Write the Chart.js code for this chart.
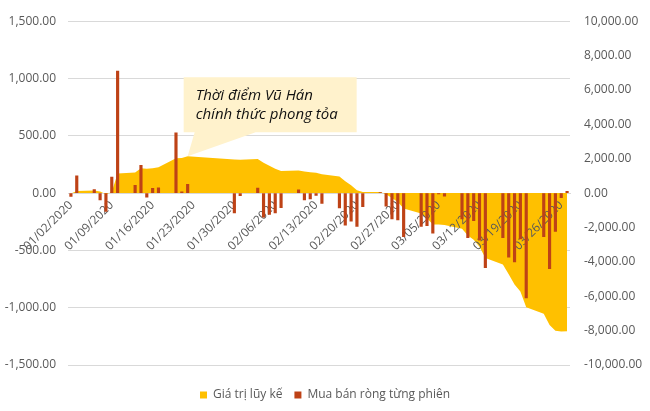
<!DOCTYPE html>
<html>
<head>
<meta charset="utf-8">
<script src="https://cdn.jsdelivr.net/npm/chart.js@4.4.1/dist/chart.umd.min.js"></script>
<style>
  html, body { margin: 0; padding: 0; background: #fff; }
  #wrap { width: 650px; height: 411px; position: relative; }
</style>
</head>
<body>
<div id="wrap"><canvas id="myChart"></canvas></div>
<script>
// trading sessions (mm/dd/yyyy)
const dates = [
  "01/02/2020","01/03/2020","01/06/2020","01/07/2020","01/08/2020","01/09/2020","01/10/2020",
  "01/13/2020","01/14/2020","01/15/2020","01/16/2020","01/17/2020","01/20/2020","01/21/2020",
  "01/22/2020","01/30/2020","01/31/2020",
  "02/03/2020","02/04/2020","02/05/2020","02/06/2020","02/07/2020","02/10/2020","02/11/2020",
  "02/12/2020","02/13/2020","02/14/2020","02/17/2020","02/18/2020","02/19/2020","02/20/2020",
  "02/21/2020","02/24/2020","02/25/2020","02/26/2020","02/27/2020","02/28/2020",
  "03/02/2020","03/03/2020","03/04/2020","03/05/2020","03/06/2020","03/09/2020","03/10/2020",
  "03/11/2020","03/12/2020","03/13/2020","03/16/2020","03/17/2020","03/18/2020","03/19/2020",
  "03/20/2020","03/23/2020","03/24/2020","03/25/2020","03/26/2020","03/27/2020"
];

// Mua bán ròng từng phiên (left axis)
const netFlow = [
  -30, 150, 30, -60, -160, 140, 1065,
  67, 242, -35, 41, 46, 527, 12,
  76, -172, -23,
  44, -210, -186, -172, -128, 28, -60,
  -50, -20, -90, -130, -280, -245, -290,
  -118, 4, -115, -225, -235, -380,
  -290, -285, -350, -8, -26, -225, -390,
  -240, -410, -650, -390, -560, -600, -400,
  -915, -380, -660, -335, -40, 15
];

// Giá trị lũy kế (right axis)
const cumulative = [
  -30, 120, 150, 90, -70, 70, 1140,
  1200, 1450, 1410, 1450, 1500, 2030, 2040,
  2150, 1960, 1940,
  1980, 1770, 1590, 1420, 1290, 1320, 1260,
  1210, 1190, 1100, 970, 690, 450, 160,
  60, 60, -60, -290, -520, -900,
  -1190, -1470, -1820, -1830, -1860, -2080, -2470,
  -2710, -3120, -3770, -4160, -4720, -5320, -5720,
  -6640, -7020, -7680, -8010, -8050, -8040
];

const tickDates = [
  "01/02/2020","01/09/2020","01/16/2020","01/23/2020","01/30/2020","02/06/2020","02/13/2020",
  "02/20/2020","02/27/2020","03/05/2020","03/12/2020","03/19/2020","03/26/2020"
];

const calloutDate = "01/22/2020";
const calloutValue = 2150;
const calloutLines = ["Thời điểm Vũ Hán", "chính thức phong tỏa"];

const dayIndex = (s) => {
  const [m, d, y] = s.split('/').map(Number);
  return (Date.UTC(y, m - 1, d) - Date.UTC(2020, 0, 2)) / 86400000;
};
const fmt = (v) => Number(v).toLocaleString('en-US', { minimumFractionDigits: 2, maximumFractionDigits: 2 });

const callout = {
  id: 'callout',
  afterDatasetsDraw(chart) {
    const { ctx, scales } = chart;
    const tx = scales.x.getPixelForValue(dayIndex(calloutDate));
    const ty = scales.y1.getPixelForValue(calloutValue);
    const left = tx - 4, top = ty - 79, w = 173, h = 55;
    ctx.save();
    ctx.fillStyle = '#FFF2CC';
    ctx.beginPath();
    ctx.moveTo(left, top);
    ctx.lineTo(left + w, top);
    ctx.lineTo(left + w, top + h);
    ctx.lineTo(tx + 68, top + h);
    ctx.lineTo(tx, ty);
    ctx.lineTo(tx + 7, top + h);
    ctx.lineTo(left, top + h);
    ctx.closePath();
    ctx.fill();
    ctx.fillStyle = '#111';
    ctx.font = "italic 15px 'Open Sans'";
    ctx.textBaseline = 'alphabetic';
    ctx.fillText(calloutLines[0], left + 12, ty - 56);
    ctx.fillText(calloutLines[1], left + 12, ty - 37);
    ctx.restore();
  }
};

// date labels sit above the area but under the bars
const labelsOverArea = {
  id: 'labelsOverArea',
  afterUpdate(chart) {
    const sx = chart.scales.x;
    if (!sx._origDrawLabels) {
      sx._origDrawLabels = sx.drawLabels;
      sx.drawLabels = () => {};
    }
  },
  afterDatasetDraw(chart, args) {
    if (args.index === 0) {
      const sx = chart.scales.x;
      sx._origDrawLabels.call(sx, chart.chartArea);
    }
  }
};

Chart.defaults.font.family = "'Open Sans', sans-serif";
Chart.defaults.font.size = 12;
Chart.defaults.color = '#595959';

const ctx = document.getElementById('myChart').getContext('2d');
new Chart(ctx, {
  type: 'bar',
  data: {
    datasets: [
      {
        type: 'line',
        label: 'Giá trị lũy kế',
        data: dates.map((d, i) => ({ x: dayIndex(d), y: cumulative[i] })),
        yAxisID: 'y1',
        fill: 'origin',
        backgroundColor: '#FFC000',
        borderColor: '#FFC000',
        borderWidth: 0,
        pointRadius: 0,
        tension: 0,
        order: 2
      },
      {
        type: 'bar',
        label: 'Mua bán ròng từng phiên',
        data: dates.map((d, i) => ({ x: dayIndex(d), y: netFlow[i] })),
        yAxisID: 'y',
        backgroundColor: '#BE4216',
        barThickness: 2.5,
        order: 1
      }
    ]
  },
  options: {
    responsive: true,
    maintainAspectRatio: false,
    animation: false,
    layout: { padding: { top: 20, bottom: 0, left: 0, right: 0 } },
    plugins: {
      legend: {
        position: 'bottom',
        title: { display: true, text: '', font: { size: 10 }, padding: 0 },
        labels: {
          boxWidth: 7, boxHeight: 7, padding: 12, color: '#595959', font: { size: 12 },
          sort: (a, b) => a.datasetIndex - b.datasetIndex
        }
      },
      tooltip: { enabled: false }
    },
    scales: {
      x: {
        type: 'linear',
        position: { y: 0 },
        min: -0.5,
        max: 85.5,
        offset: false,
        grid: { display: false, drawTicks: false },
        border: { color: '#d9d9d9' },
        afterBuildTicks: (s) => { s.ticks = tickDates.map(d => ({ value: dayIndex(d) })); },
        ticks: {
          autoSkip: false,
          maxRotation: 45,
          minRotation: 45,
          padding: 5,
          color: '#595959',
          callback: (v, i) => tickDates[i]
        }
      },
      y: {
        position: 'left',
        min: -1500,
        max: 1500,
        afterFit: (s) => { s.width = 68; },
        grid: { color: '#d9d9d9', drawTicks: false },
        border: { display: false },
        ticks: { stepSize: 500, padding: 12, callback: fmt }
      },
      y1: {
        position: 'right',
        min: -10000,
        max: 10000,
        afterFit: (s) => { s.width = 80; },
        grid: { display: false, drawTicks: false },
        border: { display: false },
        ticks: { stepSize: 2000, padding: 14, callback: fmt }
      }
    }
  },
  plugins: [callout, labelsOverArea]
});
</script>
</body>
</html>
